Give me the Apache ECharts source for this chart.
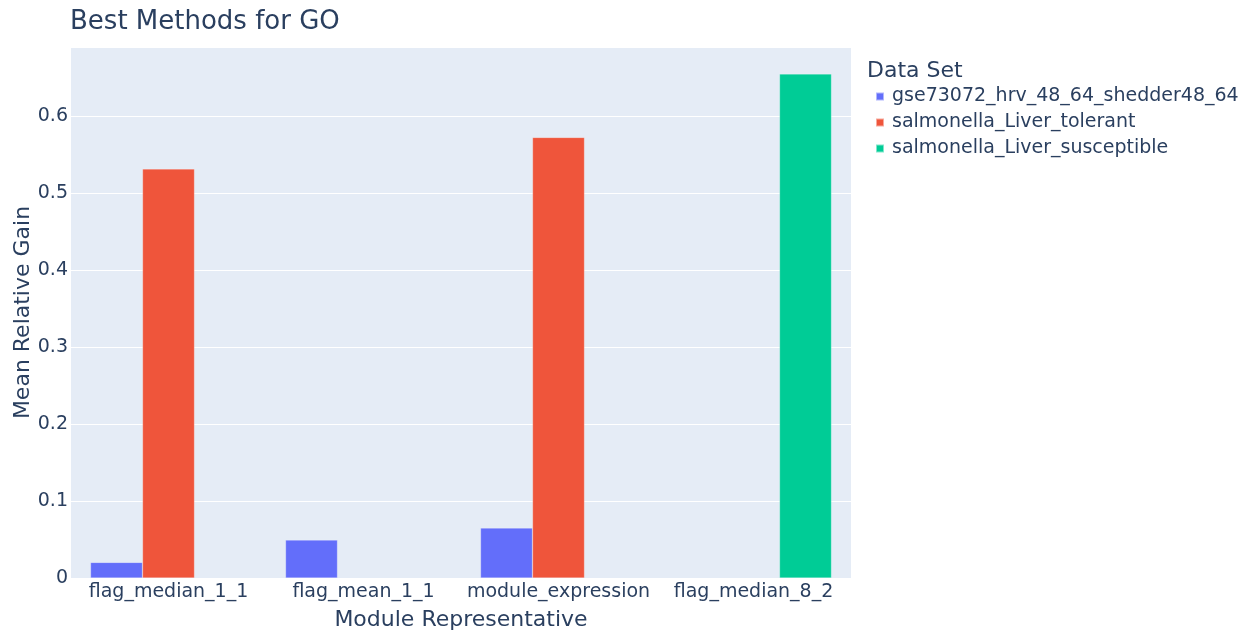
<!DOCTYPE html>
<html>
<head>
<meta charset="utf-8">
<script src="https://cdn.jsdelivr.net/npm/echarts@6/dist/echarts.min.js"></script>
<style>
  html, body { margin: 0; padding: 0; background: #fff; }
  #chart { width: 1256px; height: 634px; }
</style>
</head>
<body>
<div id="chart"></div>
<script>
// Categories and per-data-set mean relative gain
const categories = ['flag_median_1_1', 'flag_mean_1_1', 'module_expression', 'flag_median_8_2'];
const seriesNames = ['gse73072_hrv_48_64_shedder48_64', 'salmonella_Liver_tolerant', 'salmonella_Liver_susceptible'];
const hrvValues = [0.0203, 0.0493, 0.0649, null];
const tolerantValues = [0.5316, null, 0.5725, null];
const susceptibleValues = [null, null, null, 0.655];
const yTicks = [0, 0.1, 0.2, 0.3, 0.4, 0.5, 0.6];

const colors = ['#636efa', '#EF553B', '#00cc96'];
const textColor = '#2a3f5f';
const font = '"DejaVu Sans", Verdana, sans-serif';

const chart = echarts.init(document.getElementById('chart'), null, { renderer: 'canvas' });

const values = [hrvValues, tolerantValues, susceptibleValues];

chart.setOption({
  animation: false,
  backgroundColor: '#ffffff',
  color: colors,
  textStyle: { fontFamily: font, color: textColor },
  title: [
    {
      text: 'Best Methods for GO',
      left: 70, top: 4,
      padding: [5, 0, 5, 0],
      textStyle: { fontFamily: font, fontSize: 26, fontWeight: 'normal', color: textColor }
    },
    {
      text: 'Data Set',
      left: 867, top: 55,
      padding: [5, 0, 5, 0],
      textStyle: { fontFamily: font, fontSize: 22, fontWeight: 'normal', color: textColor }
    }
  ],
  legend: {
    orient: 'vertical',
    left: 870, top: 82,
    icon: 'rect',
    itemWidth: 8, itemHeight: 8,
    itemGap: 7,
    data: seriesNames,
    textStyle: { fontFamily: font, fontSize: 19, color: textColor, padding: [0, 0, 0, 3] }
  },
  grid: {
    left: 71, top: 47, width: 780, height: 531,
    outerBoundsMode: 'none',
    show: true, backgroundColor: '#E5ECF6', borderWidth: 0
  },
  xAxis: {
    type: 'category',
    data: categories,
    name: 'Module Representative',
    nameLocation: 'middle',
    nameGap: 31,
    nameMoveOverlap: false,
    nameTextStyle: { fontFamily: font, fontSize: 22, color: textColor },
    axisLine: { show: false },
    axisTick: { show: false },
    axisLabel: { fontFamily: font, fontSize: 19, color: textColor, margin: 5, interval: 0 },
    splitLine: { show: false }
  },
  yAxis: {
    type: 'value',
    min: 0, max: 0.69, interval: 0.1,
    name: 'Mean Relative Gain',
    nameLocation: 'middle',
    nameGap: 37,
    nameMoveOverlap: false,
    nameTextStyle: { fontFamily: font, fontSize: 22, color: textColor },
    axisLine: { show: false },
    axisTick: { show: false },
    axisLabel: {
      fontFamily: font, fontSize: 19, color: textColor, margin: 3,
      showMaxLabel: false,
      formatter: v => (yTicks.some(t => Math.abs(t - v) < 1e-9) ? String(Math.round(v * 10) / 10) : '')
    },
    splitLine: { lineStyle: { color: '#ffffff', width: 1 } }
  },
  series: seriesNames.map((name, i) => ({
    name,
    type: 'bar',
    data: values[i],
    barGap: '0%',
    barCategoryGap: '20%',
    itemStyle: { color: colors[i], borderColor: 'rgba(255,255,255,0.5)', borderWidth: 0.5 }
  }))
});
</script>
</body>
</html>
